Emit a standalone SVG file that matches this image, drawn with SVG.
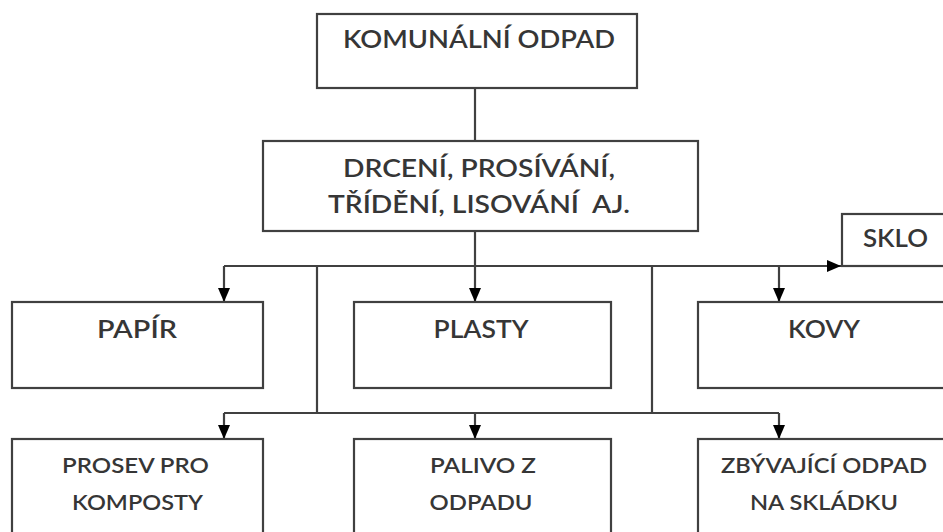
<svg xmlns="http://www.w3.org/2000/svg" width="943" height="532" viewBox="0 0 943 532">
<style>
.box{fill:#fff;stroke:#404040;stroke-width:2.2}
.t{font-family:Lato,"Open Sans",sans-serif;font-weight:600;fill:#363636;text-anchor:middle;font-size:24px;white-space:pre}
.s{font-size:21px}
.ln{stroke:#404040;stroke-width:2.2;fill:none}
</style>
<defs>
<marker id="arb" viewBox="0 0 14 12" refX="14" refY="6" markerWidth="14" markerHeight="12" markerUnits="userSpaceOnUse" orient="auto">
<path d="M0,0 L14,6 L0,12 z" fill="#000"/>
</marker>
</defs>
<rect width="943" height="532" fill="#fff"/>
<g id="connectors">
<path class="ln" d="M475,88 V141"/>
<path class="ln" d="M475,231 V302" marker-end="url(#arb)"/>
<path class="ln" d="M224,266 H841" marker-end="url(#arb)"/>
<path class="ln" d="M224,266 V302" marker-end="url(#arb)"/>
<path class="ln" d="M779,266 V302" marker-end="url(#arb)"/>
<path class="ln" d="M317,266 V413"/>
<path class="ln" d="M652,266 V413"/>
<path class="ln" d="M224,413 H779"/>
<path class="ln" d="M224,413 V439" marker-end="url(#arb)"/>
<path class="ln" d="M475,413 V439" marker-end="url(#arb)"/>
<path class="ln" d="M779,413 V439" marker-end="url(#arb)"/>
</g>
<g id="n-komunalni">
<rect class="box" x="317" y="14" width="320" height="74"/>
<text class="t" x="479" y="48" textLength="272" lengthAdjust="spacingAndGlyphs">KOMUNÁLNÍ ODPAD</text>
</g>
<g id="n-drceni">
<rect class="box" x="263" y="141" width="435" height="90"/>
<text class="t" x="479" y="177" textLength="272" lengthAdjust="spacingAndGlyphs">DRCENÍ, PROSÍVÁNÍ,</text>
<text class="t" x="479" y="213" textLength="302" lengthAdjust="spacingAndGlyphs">TŘÍDĚNÍ, LISOVÁNÍ  AJ.</text>
</g>
<g id="n-sklo">
<rect class="box" x="842" y="214" width="110" height="52"/>
<text class="t" x="895.5" y="247" textLength="65" lengthAdjust="spacingAndGlyphs">SKLO</text>
</g>
<g id="n-papir">
<rect class="box" x="12" y="302" width="251" height="86"/>
<text class="t" x="137" y="338" textLength="80" lengthAdjust="spacingAndGlyphs">PAPÍR</text>
</g>
<g id="n-plasty">
<rect class="box" x="354" y="302" width="257" height="86"/>
<text class="t" x="481" y="338" textLength="95" lengthAdjust="spacingAndGlyphs">PLASTY</text>
</g>
<g id="n-kovy">
<rect class="box" x="698" y="302" width="260" height="86"/>
<text class="t" x="824" y="338" textLength="72" lengthAdjust="spacingAndGlyphs">KOVY</text>
</g>
<g id="n-prosev">
<rect class="box" x="12" y="439" width="251" height="110"/>
<text class="t s" x="135.5" y="473" textLength="147" lengthAdjust="spacingAndGlyphs">PROSEV PRO</text>
<text class="t s" x="137.5" y="510" textLength="131" lengthAdjust="spacingAndGlyphs">KOMPOSTY</text>
</g>
<g id="n-palivo">
<rect class="box" x="354" y="439" width="257" height="110"/>
<text class="t s" x="483" y="473" textLength="106" lengthAdjust="spacingAndGlyphs">PALIVO Z</text>
<text class="t s" x="481" y="510" textLength="103" lengthAdjust="spacingAndGlyphs">ODPADU</text>
</g>
<g id="n-zbyvajici">
<rect class="box" x="698" y="439" width="260" height="110"/>
<text class="t s" x="824" y="473" textLength="206" lengthAdjust="spacingAndGlyphs">ZBÝVAJÍCÍ ODPAD</text>
<text class="t s" x="824" y="510" textLength="148" lengthAdjust="spacingAndGlyphs">NA SKLÁDKU</text>
</g>
</svg>
